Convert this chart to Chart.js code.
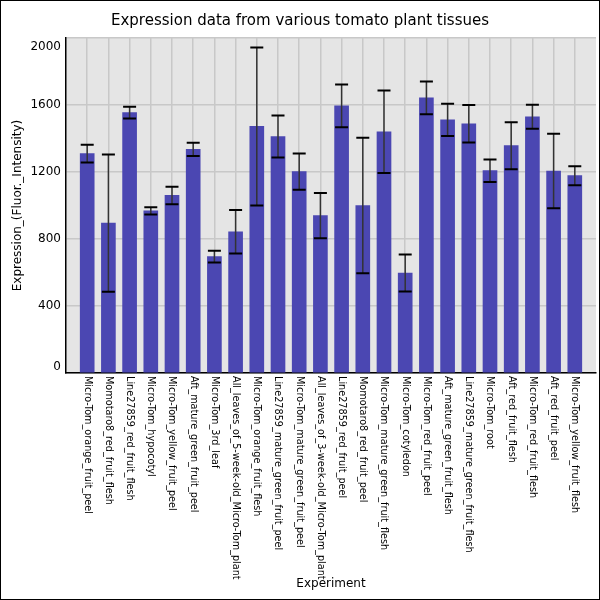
<!DOCTYPE html>
<html>
<head>
<meta charset="utf-8">
<title>Expression data from various tomato plant tissues</title>
<script src="https://cdn.jsdelivr.net/npm/chart.js@4.4.1/dist/chart.umd.min.js"></script>
<style>
  body { margin: 0; background: #fff; }
  canvas { display: block; }
</style>
</head>
<body>
<canvas id="chart" width="600" height="600"></canvas>
<script>
const experiments = [
    'Micro-Tom_orange_fruit_peel',
    'Momotaro8_red_fruit_flesh',
    'Line27859_red_fruit_flesh',
    'Micro-Tom_hypocotyl',
    'Micro-Tom_yellow_fruit_peel',
    'Aft_mature_green_fruit_peel',
    'Micro-Tom_3rd_leaf',
    'All_leaves_of_5-week-old_Micro-Tom_plant',
    'Micro-Tom_orange_fruit_flesh',
    'Line27859_mature_green_fruit_peel',
    'Micro-Tom_mature_green_fruit_peel',
    'All_leaves_of_3-week-old_Micro-Tom_plant',
    'Line27859_red_fruit_peel',
    'Momotaro8_red_fruit_peel',
    'Micro-Tom_mature_green_fruit_flesh',
    'Micro-Tom_cotyledon',
    'Micro-Tom_red_fruit_peel',
    'Aft_mature_green_fruit_flesh',
    'Line27859_mature_green_fruit_flesh',
    'Micro-Tom_root',
    'Aft_red_fruit_flesh',
    'Micro-Tom_red_fruit_flesh',
    'Aft_red_fruit_peel',
    'Micro-Tom_yellow_fruit_flesh'
];

const expression = [1310, 895, 1555, 968, 1060, 1335, 695, 843, 1472, 1412, 1202, 940,
                    1595, 1000, 1440, 597, 1643, 1511, 1488, 1208, 1357, 1530, 1206, 1178];

const errors = [53, 410, 35, 21, 52, 40, 35, 130, 472, 125, 108, 135,
                128, 405, 246, 110, 98, 96, 112, 67, 140, 72, 222, 57];

const yTicks = [0, 400, 800, 1200, 1600, 2000];

const naslov = 'Expression data from various tomato plant tissues';
const FONT = '"DejaVu Sans", sans-serif';

// sivi fond iza grafa i okvir slike
const pozadina = {
    id: 'pozadina',
    beforeDraw(chart) {
        const { ctx, chartArea: a } = chart;
        ctx.save();
        ctx.fillStyle = '#e5e5e5';
        ctx.fillRect(a.left, a.top, a.right - a.left, a.bottom - a.top);
        ctx.restore();
    },
    afterDraw(chart) {
        const ctx = chart.ctx;
        ctx.save();
        ctx.strokeStyle = '#000';
        ctx.lineWidth = 1;
        ctx.strokeRect(0.5, 0.5, chart.width - 1, chart.height - 1);
        ctx.restore();
    }
};

// error barovi
const greske = {
    id: 'greske',
    afterDatasetsDraw(chart) {
        const { ctx, scales: { x, y } } = chart;
        ctx.save();
        expression.forEach((v, i) => {
            const px = x.getPixelForValue(i);
            const top = y.getPixelForValue(v + errors[i]);
            const bot = y.getPixelForValue(v - errors[i]);
            ctx.strokeStyle = '#333';
            ctx.lineWidth = 1.5;
            ctx.beginPath();
            ctx.moveTo(px, top);
            ctx.lineTo(px, bot);
            ctx.stroke();
            ctx.strokeStyle = '#000';
            ctx.lineWidth = 2;
            ctx.beginPath();
            ctx.moveTo(px - 6.5, top);
            ctx.lineTo(px + 6.5, top);
            ctx.moveTo(px - 6.5, bot);
            ctx.lineTo(px + 6.5, bot);
            ctx.stroke();
        });
        ctx.restore();
    }
};

// naslov i oznake osi
const oznake = {
    id: 'oznake',
    afterDraw(chart) {
        const { ctx, chartArea: a, scales: { x, y } } = chart;
        ctx.save();
        ctx.fillStyle = '#000';

        ctx.font = '15px ' + FONT;
        ctx.textAlign = 'center';
        ctx.textBaseline = 'middle';
        ctx.fillText(naslov, chart.width / 2, 21);

        ctx.font = '9.7px ' + FONT;
        ctx.textAlign = 'left';
        experiments.forEach((label, i) => {
            ctx.save();
            ctx.translate(x.getPixelForValue(i), a.bottom + 3);
            ctx.rotate(Math.PI / 2);
            ctx.fillText(label, 0, 0);
            ctx.restore();
        });

        ctx.font = '12px ' + FONT;
        ctx.textAlign = 'right';
        yTicks.forEach(t => {
            let py = y.getPixelForValue(t);
            py = Math.min(Math.max(py, a.top + 9), a.bottom - 6);
            ctx.fillText(String(t), a.left - 5, py);
        });

        ctx.textAlign = 'center';
        ctx.fillText('Experiment', (a.left + a.right) / 2, 584);

        ctx.save();
        ctx.translate(18, (a.top + a.bottom) / 2);
        ctx.rotate(-Math.PI / 2);
        ctx.fillText('Expression_(Fluor._Intensity)', 0, 0);
        ctx.restore();

        ctx.restore();
    }
};

new Chart(document.getElementById('chart'), {
    type: 'bar',
    data: {
        datasets: [{
            label: 'Expression',
            data: expression.map((v, i) => ({ x: i, y: v })),
            backgroundColor: '#4b47b2',
            borderWidth: 0,
            barThickness: 14
        }]
    },
    options: {
        responsive: false,
        animation: false,
        devicePixelRatio: 1,
        layout: { padding: { left: 66, right: 4, top: 38, bottom: 227 } },
        plugins: {
            legend: { display: false },
            tooltip: { enabled: false },
            title: { display: false }
        },
        scales: {
            x: {
                type: 'linear',
                offset: false,
                min: -1,
                max: 24,
                ticks: { display: false, stepSize: 1 },
                grid: {
                    offset: false,
                    drawTicks: false,
                    lineWidth: 1.5,
                    color: c => (c.tick && c.tick.value >= 0 && c.tick.value <= 23) ? '#c8c8c8' : 'rgba(0,0,0,0)'
                },
                border: { display: true, color: '#000', width: 1.5 }
            },
            y: {
                min: 0,
                max: 2000,
                ticks: { display: false, stepSize: 400 },
                grid: { drawTicks: false, lineWidth: 1.5, color: '#c8c8c8' },
                border: { display: true, color: '#000', width: 1.5 }
            }
        }
    },
    plugins: [pozadina, greske, oznake]
});
</script>
</body>
</html>
